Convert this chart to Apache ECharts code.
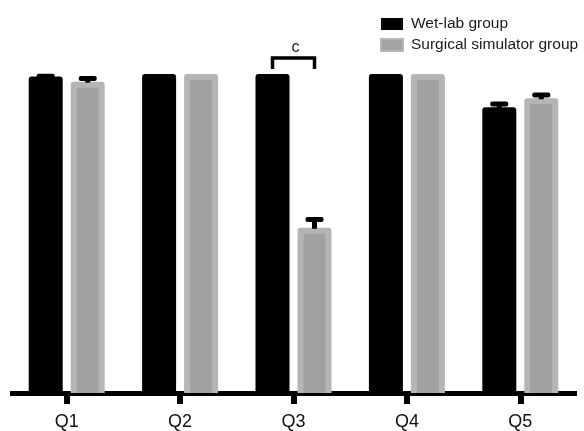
<!DOCTYPE html>
<html>
<head>
<meta charset="utf-8">
<script src="https://cdn.jsdelivr.net/npm/echarts@6/dist/echarts.min.js"></script>
<style>
html,body{margin:0;padding:0;background:#fff;}
#chart{width:584px;height:431px;}
</style>
</head>
<body>
<div id="chart"></div>
<script>
const categories = ['Q1', 'Q2', 'Q3', 'Q4', 'Q5'];
const wetLab = [4.96, 5, 5, 5, 4.48];
const wetLabErr = [0.005, 0, 0, 0, 0.05];
const simulator = [4.88, 5, 2.59, 5, 4.62];
const simulatorErr = [0.05, 0, 0.13, 0, 0.05];
const seriesNames = ['Wet-lab group', 'Surgical simulator group'];
const sigIndex = 2;
const sigLabel = 'c';
const sigLevel = 5.25;
const sigLegLevel = 5.08;
const sigTextLevel = 5.42;

const BAR_W = 34, BAR_GAP = 8;
const OFFSET = (BAR_W + BAR_GAP) / 2;
const FONT = '"Liberation Sans", Arial, sans-serif';

const errData = [];
wetLab.forEach((v, i) => { if (wetLabErr[i] > 0) errData.push([i, v, wetLabErr[i], -1]); });
simulator.forEach((v, i) => { if (simulatorErr[i] > 0) errData.push([i, v, simulatorErr[i], 1]); });

const chart = echarts.init(document.getElementById('chart'));
chart.setOption({
  animation: false,
  backgroundColor: '#fff',
  textStyle: { fontFamily: FONT },
  grid: { left: 10, right: 7, top: 74, bottom: 38, containLabel: false },
  legend: {
    orient: 'vertical',
    left: 380, top: 16, padding: 0,
    itemWidth: 22, itemHeight: 12, itemGap: 5,
    textStyle: { fontFamily: FONT, fontSize: 15.5, color: '#1a1a1a', padding: [0, 0, 0, 3] },
    data: [
      { name: seriesNames[0], icon: 'rect', itemStyle: { color: '#000' } },
      { name: seriesNames[1], icon: 'rect', itemStyle: { color: '#a3a3a3', borderColor: '#b5b5b5', borderWidth: 2 } }
    ]
  },
  xAxis: {
    type: 'category',
    data: categories,
    axisLine: { show: true, lineStyle: { color: '#000', width: 5, cap: 'butt' } },
    axisTick: { show: true, alignWithLabel: true, inside: false, length: 11, lineStyle: { color: '#000', width: 6 } },
    axisLabel: { fontFamily: FONT, fontSize: 18, color: '#111', margin: 20 }
  },
  yAxis: { type: 'value', min: 0, max: 5, show: false, splitLine: { show: false } },
  series: [
    {
      name: seriesNames[0], type: 'bar', data: wetLab,
      barWidth: BAR_W, barGap: (BAR_GAP / BAR_W * 100).toFixed(1) + '%',
      itemStyle: { color: '#000', borderRadius: [3, 3, 0, 0] }, z: 2
    },
    {
      name: seriesNames[1], type: 'bar', data: simulator,
      barWidth: BAR_W,
      itemStyle: { color: '#b5b5b5', borderRadius: [3, 3, 0, 0] }, z: 2
    },
    {
      type: 'custom', name: 'inner', z: 3, silent: true,
      data: simulator.map((v, i) => [i, v]),
      renderItem: function (params, api) {
        const p = api.coord([api.value(0), api.value(1)]);
        const b = api.coord([api.value(0), 0]);
        const cx = p[0] + OFFSET;
        return { type: 'rect', shape: { x: cx - 11, y: p[1] + 6, width: 22, height: b[1] - p[1] - 6 }, style: { fill: '#a1a1a1' } };
      }
    },
    {
      type: 'custom', name: 'err', z: 5, silent: true,
      data: errData,
      renderItem: function (params, api) {
        const i = api.value(0), v = api.value(1), e = api.value(2), side = api.value(3);
        const p0 = api.coord([i, v]);
        const p1 = api.coord([i, v + e]);
        const cx = p0[0] + side * OFFSET;
        return { type: 'group', children: [
          { type: 'rect', shape: { x: cx - 2.5, y: p1[1], width: 5, height: p0[1] - p1[1] + 1 }, style: { fill: '#000' } },
          { type: 'rect', shape: { x: cx - 9, y: p1[1] - 2.5, width: 18, height: 5, r: 2 }, style: { fill: '#000' } }
        ] };
      }
    },
    {
      type: 'custom', name: 'sig', z: 6, silent: true, clip: false,
      data: [[sigIndex, sigLevel, sigLegLevel, sigTextLevel]],
      renderItem: function (params, api) {
        const i = api.value(0);
        const top = api.coord([i, api.value(1)]);
        const leg = api.coord([i, api.value(2)]);
        const txt = api.coord([i, api.value(3)]);
        const x1 = top[0] - OFFSET, x2 = top[0] + OFFSET;
        return { type: 'group', children: [
          { type: 'polyline', shape: { points: [[x1, leg[1]], [x1, top[1]], [x2, top[1]], [x2, leg[1]]] }, style: { stroke: '#000', lineWidth: 3.5, fill: null, lineJoin: 'miter' } },
          { type: 'text', style: { x: top[0] + 2, y: txt[1], text: sigLabel, fill: '#1a1a1a', font: '16px ' + FONT, align: 'center', verticalAlign: 'middle' } }
        ] };
      }
    }
  ]
});
</script>
</body>
</html>
